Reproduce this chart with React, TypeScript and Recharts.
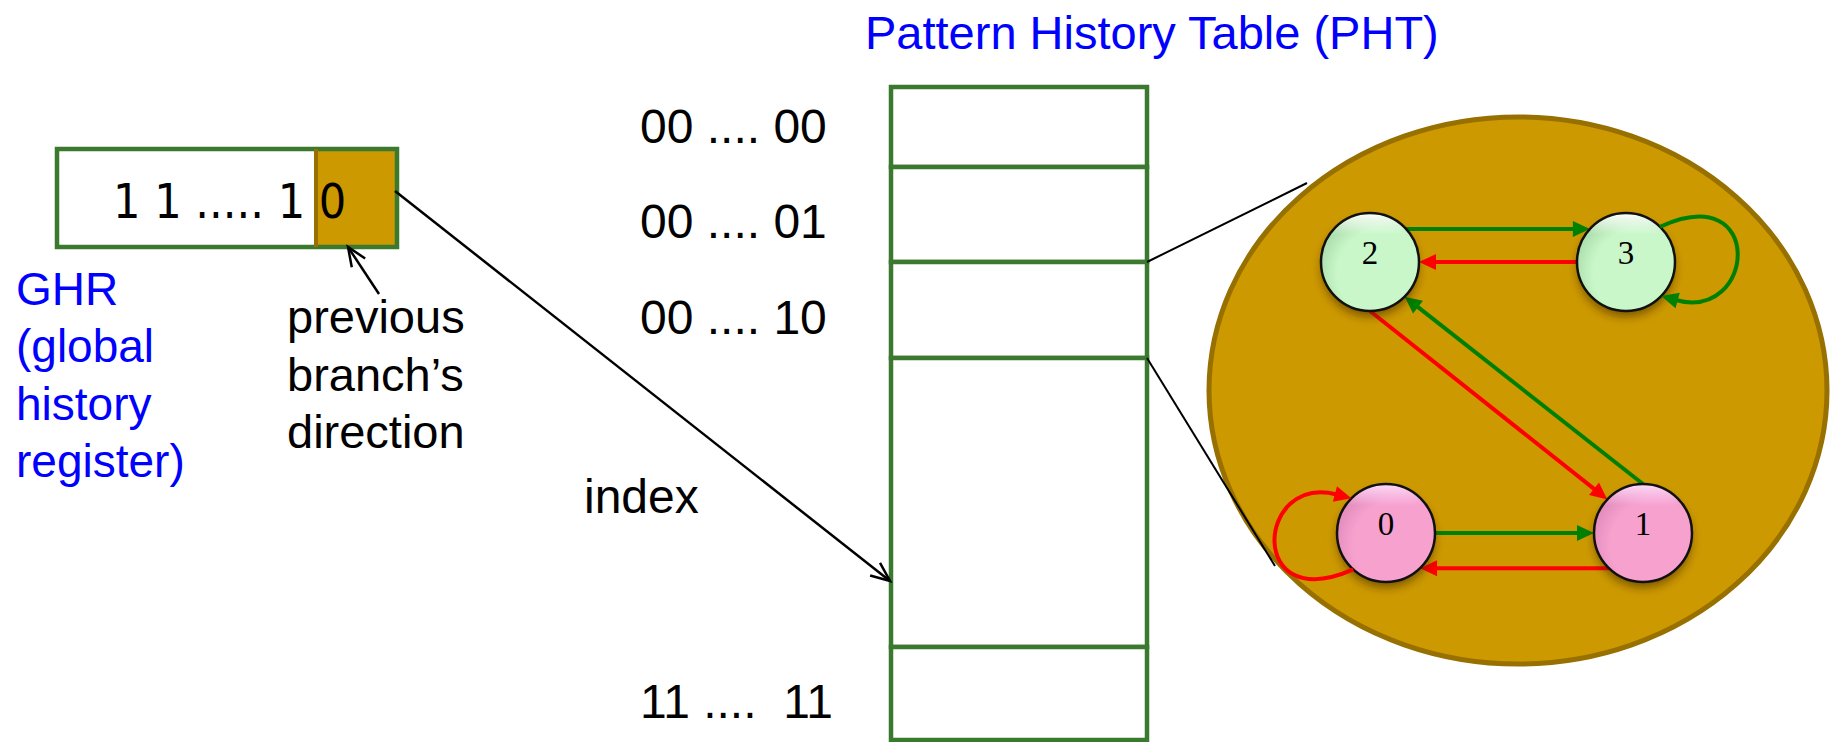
import React from 'react'
import { ComposedChart, XAxis, YAxis, Scatter, ReferenceArea, ReferenceLine, ReferenceDot } from 'recharts'

const W = 1830
const H = 742

// ---- content ----
const ghrBits = '1 1 ..... 1 0'
const ghrCaption = ['GHR', '(global', 'history', 'register)']
const bitCaption = ['previous', 'branch\u2019s', 'direction']
const phtTitle = 'Pattern History Table (PHT)'
const phtIndexLabels = ['00 .... 00', '00 .... 01', '00 .... 10', 'index', '11 ....  11']

// 2-bit counter states and their transitions (taken = green, not taken = red)
const states = [0, 1, 2, 3]
const statePredictsTaken = [false, false, true, true]
const transFrom = [0, 0, 1, 1, 2, 2, 3, 3]
const transTo = [1, 0, 2, 0, 3, 1, 3, 2]
const transTaken = [true, false, true, false, true, false, true, false]

// ---- layout (page units, 1 unit = 1px) ----
const FONT = '"Liberation Sans", Arial, sans-serif'
const BLUE = '#0000ff'
const BOX_GREEN = '#3b7a2e'
const GOLD = '#cc9900'
const GOLD_DARK = '#977000'
const TAKEN = '#008000'
const NOT_TAKEN = '#ff0000'

const ghrBox = { x1: 57, x2: 397, y1: 149, y2: 247, split: 314 }
const phtX = [891, 1147]
const phtRowEdges = [87, 167, 262, 358, 647, 740]
const phtLabelX = [640, 640, 640, 584, 640]
const phtLabelY = [143, 238, 334, 513, 718]
const ghrCaptionY = [305, 362, 420, 477]
const bitCaptionY = [333, 391, 448]
const fsmArea = { x1: 1209, x2: 1827, y1: 117, y2: 664 }
const nodePos: Record<number, [number, number]> = { 0: [1386, 533], 1: [1643, 533], 2: [1370, 262], 3: [1626, 262] }
const nodeR = 49
// rim angles (deg, screen coords) where each transition leaves / enters; loops bulge to `side`
const transA0 = [0, 132, -90, 134, -42.5, 90, -46, 180]
const transA1 = [180, -135, 45, 46, -137.5, -136.7, 44, 0]
const loopSide = [0, -1, 0, 0, 0, 0, 1, 0]
const callouts = [
  [1147, 262, 1307, 183],
  [1147, 358, 1275, 566],
]
const indexArrow = [395, 191, 890, 581]
const bitArrow = [379, 294, 348, 247]

type Pt = { x: number; y: number }
const rad = (a: number) => (a * Math.PI) / 180

const rim = (s: number, a: number): Pt => {
  const [x, y] = nodePos[s]
  return { x: x + nodeR * Math.cos(rad(a)), y: y + nodeR * Math.sin(rad(a)) }
}

const head = (tip: Pt, ux: number, uy: number, len: number, half: number) => {
  const bx = tip.x - ux * len
  const by = tip.y - uy * len
  return {
    base: { x: bx, y: by },
    pts: `${bx - uy * half},${by + ux * half} ${tip.x},${tip.y} ${bx + uy * half},${by - ux * half}`,
  }
}

const arrowShape = (color: string, width: number, open: boolean) => (p: any) => {
  const { x1, y1, x2, y2 } = p
  const len = Math.hypot(x2 - x1, y2 - y1) || 1
  const ux = (x2 - x1) / len
  const uy = (y2 - y1) / len
  if (open) {
    const h = head({ x: x2, y: y2 }, ux, uy, 19, 8)
    return (
      <g>
        <line x1={x1} y1={y1} x2={x2} y2={y2} stroke={color} strokeWidth={width} />
        <polyline points={h.pts} fill="none" stroke={color} strokeWidth={width} />
      </g>
    )
  }
  const h = head({ x: x2, y: y2 }, ux, uy, 17, 8)
  return (
    <g>
      <line x1={x1} y1={y1} x2={h.base.x + ux * 2} y2={h.base.y + uy * 2} stroke={color} strokeWidth={width} />
      <polygon points={h.pts} fill={color} />
    </g>
  )
}

const loopShape = (a0: number, a1: number, side: number, color: string) => (p: any) => {
  const { cx, cy } = p
  const s = { x: cx + nodeR * Math.cos(rad(a0)), y: cy + nodeR * Math.sin(rad(a0)) }
  const e = { x: cx + nodeR * Math.cos(rad(a1)), y: cy + nodeR * Math.sin(rad(a1)) }
  const reach = 140
  const c1 = { x: cx + side * reach, y: cy + Math.sign(s.y - cy) * 84 }
  const c2 = { x: cx + side * (reach - 10), y: cy + Math.sign(e.y - cy) * 60 }
  const len = Math.hypot(e.x - c2.x, e.y - c2.y)
  const ux = (e.x - c2.x) / len
  const uy = (e.y - c2.y) / len
  const h = head(e, ux, uy, 17, 8)
  return (
    <g>
      <path
        d={`M${s.x},${s.y} C${c1.x},${c1.y} ${c2.x},${c2.y} ${h.base.x + ux * 2},${h.base.y + uy * 2}`}
        fill="none"
        stroke={color}
        strokeWidth={4}
      />
      <polygon points={h.pts} fill={color} />
    </g>
  )
}

const rectShape = (fill: string, stroke: string, sw: number) => (p: any) => (
  <rect x={p.x} y={p.y} width={p.width} height={p.height} fill={fill} stroke={stroke} strokeWidth={sw} />
)

const ellipseShape = (p: any) => (
  <ellipse
    cx={p.x + p.width / 2}
    cy={p.y + p.height / 2}
    rx={p.width / 2}
    ry={p.height / 2}
    fill={GOLD}
    stroke={GOLD_DARK}
    strokeWidth={5}
  />
)

const textShape = (text: string, size: number, color: string, family = FONT, anchor = 'start') => (p: any) => (
  <text
    x={p.cx}
    y={p.cy}
    fontSize={size}
    fill={color}
    fontFamily={family}
    textAnchor={anchor as any}
    style={{ whiteSpace: 'pre' }}
  >
    {text}
  </text>
)

const nodeShape = (p: any) => {
  const { cx, cy, payload } = p
  const green = payload.taken
  const id = `st${payload.state}`
  const body = green ? '#c9f7c9' : '#f7a1cf'
  const shade = green ? '#a6d8a6' : '#de88b8'
  const top = green ? '#ffffff' : '#ffdcfb'
  return (
    <g>
      <defs>
        <radialGradient id={`${id}-g`} cx="0.62" cy="0.62" r="0.7">
          <stop offset="0" stopColor={body} />
          <stop offset="0.65" stopColor={body} />
          <stop offset="1" stopColor={shade} />
        </radialGradient>
        <linearGradient id={`${id}-h`} x1="0" y1="0" x2="0" y2="1">
          <stop offset="0" stopColor={top} stopOpacity={1} />
          <stop offset="0.22" stopColor={top} stopOpacity={0} />
        </linearGradient>
        <filter id={`${id}-s`} x="-40%" y="-40%" width="180%" height="180%">
          <feGaussianBlur stdDeviation="4" />
        </filter>
      </defs>
      <circle cx={cx} cy={cy + 6} r={nodeR} fill="rgba(70,40,0,0.55)" filter={`url(#${id}-s)`} />
      <circle cx={cx} cy={cy} r={nodeR} fill={`url(#${id}-g)`} />
      <circle cx={cx} cy={cy} r={nodeR} fill={`url(#${id}-h)`} stroke="#111" strokeWidth={2.5} />
      <text
        x={cx}
        y={cy + 2}
        textAnchor="middle"
        fontSize={33}
        fontFamily='"Liberation Serif", "Times New Roman", serif'
        fill="#000"
      >
        {payload.state}
      </text>
    </g>
  )
}

const nodeData = states.map((s) => ({ x: nodePos[s][0], y: nodePos[s][1], state: s, taken: statePredictsTaken[s] }))

export default function App() {
  return (
    <div style={{ position: 'absolute', left: 0, top: 0, width: W, height: H, background: '#fff' }}>
      <ComposedChart width={W} height={H} margin={{ top: 0, right: 0, bottom: 0, left: 0 }}>
        <XAxis type="number" dataKey="x" domain={[0, W]} allowDataOverflow hide />
        <YAxis type="number" dataKey="y" domain={[0, H]} allowDataOverflow reversed hide />

        {/* GHR register */}
        <ReferenceArea x1={ghrBox.x1} x2={ghrBox.x2} y1={ghrBox.y1} y2={ghrBox.y2} shape={rectShape('#fff', 'none', 0)} />
        <ReferenceArea x1={ghrBox.split} x2={ghrBox.x2} y1={ghrBox.y1} y2={ghrBox.y2} shape={rectShape(GOLD, 'none', 0)} />
        <ReferenceLine
          segment={[{ x: ghrBox.split + 2, y: ghrBox.y1 }, { x: ghrBox.split + 2, y: ghrBox.y2 }]}
          stroke={GOLD_DARK}
          strokeWidth={4}
        />
        <ReferenceArea x1={ghrBox.x1} x2={ghrBox.x2} y1={ghrBox.y1} y2={ghrBox.y2} shape={rectShape('none', BOX_GREEN, 4.5)} />
        <ReferenceDot
          x={113}
          y={218}
          r={0}
          shape={textShape(ghrBits, 48, '#000', '"DejaVu Sans Condensed", "DejaVu Sans", sans-serif')}
        />
        {ghrCaption.map((t, i) => (
          <ReferenceDot key={`gc${i}`} x={16} y={ghrCaptionY[i]} r={0} shape={textShape(t, 46, BLUE)} />
        ))}
        {bitCaption.map((t, i) => (
          <ReferenceDot key={`bc${i}`} x={287} y={bitCaptionY[i]} r={0} shape={textShape(t, 47, '#000')} />
        ))}
        <ReferenceLine
          segment={[{ x: bitArrow[0], y: bitArrow[1] }, { x: bitArrow[2], y: bitArrow[3] }]}
          shape={arrowShape('#000', 2.5, true)}
        />

        {/* Pattern history table */}
        <ReferenceDot x={865} y={49} r={0} shape={textShape(phtTitle, 47, BLUE)} />
        {phtRowEdges.slice(0, -1).map((y, i) => (
          <ReferenceArea
            key={`row${i}`}
            x1={phtX[0]}
            x2={phtX[1]}
            y1={y}
            y2={phtRowEdges[i + 1]}
            shape={rectShape('#fff', BOX_GREEN, 4.5)}
          />
        ))}
        {phtIndexLabels.map((t, i) => (
          <ReferenceDot key={`pl${i}`} x={phtLabelX[i]} y={phtLabelY[i]} r={0} shape={textShape(t, 48, '#000')} />
        ))}
        <ReferenceLine
          segment={[{ x: indexArrow[0], y: indexArrow[1] }, { x: indexArrow[2], y: indexArrow[3] }]}
          shape={arrowShape('#000', 2.5, true)}
        />

        {/* zoomed 2-bit counter */}
        <ReferenceArea x1={fsmArea.x1} x2={fsmArea.x2} y1={fsmArea.y1} y2={fsmArea.y2} shape={ellipseShape} />
        {callouts.map((c, i) => (
          <ReferenceLine
            key={`co${i}`}
            segment={[{ x: c[0], y: c[1] }, { x: c[2], y: c[3] }]}
            stroke="#000"
            strokeWidth={2}
          />
        ))}
        <Scatter data={nodeData} shape={nodeShape} isAnimationActive={false} />
        {transFrom.map((f, i) => {
          const color = transTaken[i] ? TAKEN : NOT_TAKEN
          if (f === transTo[i]) {
            return (
              <ReferenceDot
                key={`tr${i}`}
                x={nodePos[f][0]}
                y={nodePos[f][1]}
                r={0}
                shape={loopShape(transA0[i], transA1[i], loopSide[i], color)}
              />
            )
          }
          const a = rim(f, transA0[i])
          const b = rim(transTo[i], transA1[i])
          return <ReferenceLine key={`tr${i}`} segment={[a, b]} shape={arrowShape(color, 4, false)} />
        })}
      </ComposedChart>
    </div>
  )
}
